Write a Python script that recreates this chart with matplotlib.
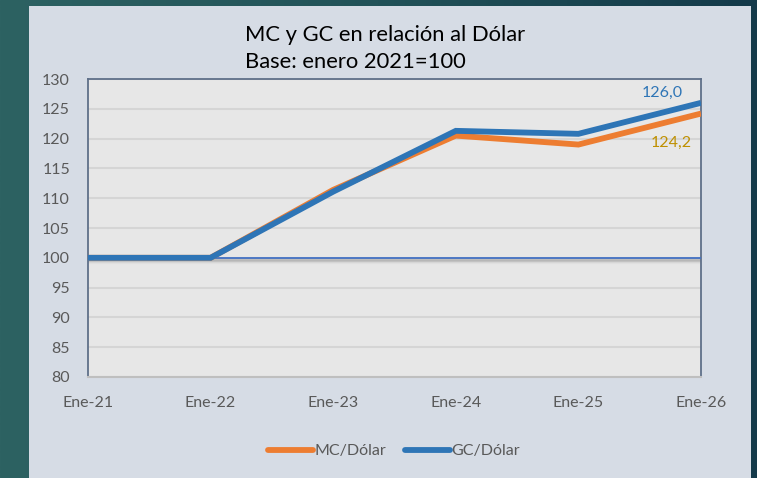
import matplotlib
matplotlib.use("Agg")
import matplotlib.pyplot as plt
import numpy as np
from matplotlib.lines import Line2D
from matplotlib.colors import LinearSegmentedColormap

categories = ["Ene-21", "Ene-22", "Ene-23", "Ene-24", "Ene-25", "Ene-26"]
mc_dolar = [100.0, 100.0, 111.4, 120.5, 119.0, 124.2]
gc_dolar = [100.0, 100.0, 111.1, 121.3, 120.8, 126.0]
yticks = [80, 85, 90, 95, 100, 105, 110, 115, 120, 125, 130]

plt.rcParams['font.family'] = ['Lato', 'DejaVu Sans']

W, H = 757, 478
fig = plt.figure(figsize=(W / 100, H / 100), dpi=100)

# background gradient
bg = fig.add_axes([0, 0, 1, 1])
grad = np.linspace(0, 1, 256).reshape(1, -1)
cmap = LinearSegmentedColormap.from_list("bg", ["#2D6262", "#225258", "#143A4A"])
bg.imshow(grad, aspect='auto', cmap=cmap, extent=[0, 1, 0, 1])
bg.set_xlim(0, 1); bg.set_ylim(0, 1)
bg.axis('off')
panel = plt.Rectangle((29 / W, 0), (751 - 29) / W, (H - 6) / H, transform=bg.transAxes,
                      facecolor="#D6DCE5", edgecolor='none')
bg.add_patch(panel)

# plot area
x0, x1, y0, y1 = 88, 701, 79, 377
ax = fig.add_axes([x0 / W, 1 - y1 / H, (x1 - x0) / W, (y1 - y0) / H])
ax.set_facecolor("#E7E7E7")
x = np.arange(len(categories))
ax.set_xlim(0, len(categories) - 1)
ax.set_ylim(80, 130)
ax.set_yticks(yticks)
ax.set_xticks(x)
ax.set_xticklabels(categories)
ax.yaxis.grid(True, color="#D5D5D5", lw=1.5)
ax.set_axisbelow(True)
ax.tick_params(axis='both', length=0, labelsize=11.5, colors="#595959")
ax.tick_params(axis='x', pad=14)
ax.tick_params(axis='y', pad=13)
for s in ['left', 'top', 'right']:
    ax.spines[s].set_color("#5F7089")
    ax.spines[s].set_linewidth(1.3)
ax.spines['bottom'].set_color("#BFBFBF")
ax.spines['bottom'].set_linewidth(1.5)

# 100 reference line with shadow
for i in range(8):
    ax.axhline(100 - 0.1 * (i + 1), color="#A0A0A0", lw=1.0, alpha=0.5 * (1 - i / 8), zorder=2)
ax.axhline(100, color="#4472C4", lw=1.3, zorder=3)

ax.plot(x, mc_dolar, color="#ED7D31", lw=4.2, solid_capstyle='butt', solid_joinstyle='miter', zorder=4)
ax.plot(x, gc_dolar, color="#2E75B6", lw=4.2, solid_capstyle='butt', solid_joinstyle='miter', zorder=5)

ax.text(4.68, 127.65, "126,0", color="#2E75B6", fontsize=11.5, ha='center', va='center')
ax.text(4.76, 119.26, "124,2", color="#BF9000", fontsize=11.5, ha='center', va='center')

# title
fig.text(245 / W, 1 - 35 / H, "MC y GC en relación al Dólar", fontsize=15.8, color="black", ha='left', va='center')
fig.text(245 / W, 1 - 62 / H, "Base: enero 2021=100", fontsize=15.8, color="black", ha='left', va='center')

# legend
handles = [Line2D([], [], color="#ED7D31", lw=4.2, solid_capstyle='round'),
           Line2D([], [], color="#2E75B6", lw=4.2, solid_capstyle='round')]
fig.legend(handles, ["MC/Dólar", "GC/Dólar"], loc='center', bbox_to_anchor=(394 / W, 1 - 451 / H),
           ncol=2, frameon=False, fontsize=11.5, handlelength=2.8, handletextpad=0.1,
           columnspacing=1.2, labelcolor="#595959")

fig.savefig("out.png", dpi=100)
